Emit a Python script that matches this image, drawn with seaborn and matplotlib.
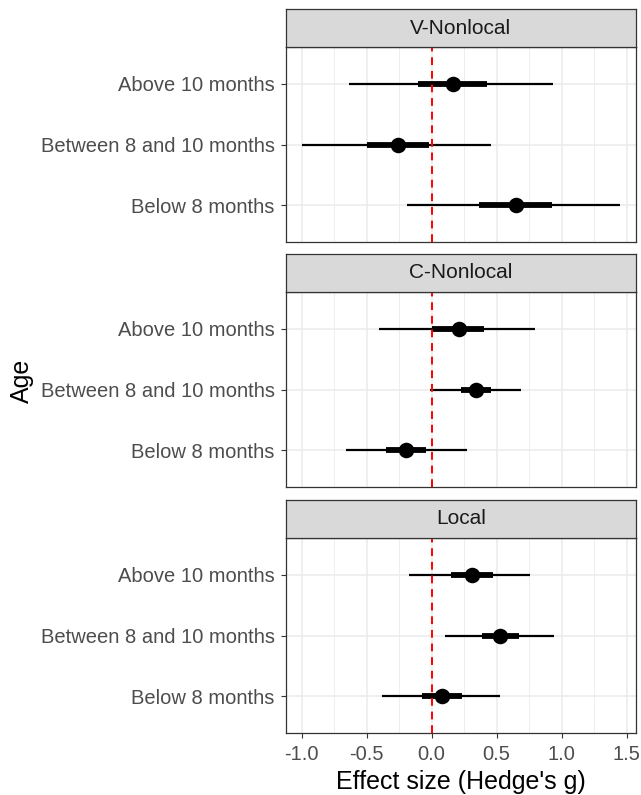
import matplotlib
matplotlib.use("Agg")
import matplotlib.pyplot as plt
import numpy as np
import pandas as pd
import seaborn as sns

# Meta-analytic estimates by condition and age group
conditions = ["V-Nonlocal", "C-Nonlocal", "Local"]
ages = ["Below 8 months", "Between 8 and 10 months", "Above 10 months"]

# order within each condition follows `ages`
estimate = {
    "V-Nonlocal": [0.651, -0.262, 0.166],
    "C-Nonlocal": [-0.195, 0.343, 0.213],
    "Local":      [0.077, 0.528, 0.310],
}
# inner (thick) interval
inner_lo = {
    "V-Nonlocal": [0.364, -0.500, -0.103],
    "C-Nonlocal": [-0.349, 0.225, 0.000],
    "Local":      [-0.077, 0.385, 0.151],
}
inner_hi = {
    "V-Nonlocal": [0.923, -0.020, 0.428],
    "C-Nonlocal": [-0.046, 0.456, 0.405],
    "Local":      [0.231, 0.672, 0.469],
}
# outer (thin) interval
outer_lo = {
    "V-Nonlocal": [-0.192, -0.998, -0.634],
    "C-Nonlocal": [-0.657, -0.013, -0.405],
    "Local":      [-0.385, 0.102, -0.175],
}
outer_hi = {
    "V-Nonlocal": [1.449, 0.456, 0.930],
    "C-Nonlocal": [0.272, 0.684, 0.795],
    "Local":      [0.528, 0.943, 0.754],
}
x_ticks = [-1.0, -0.5, 0.0, 0.5, 1.0, 1.5]

rows = []
for c in conditions:
    for i, a in enumerate(ages):
        rows.append(dict(condition=c, age=a, pos=i, est=estimate[c][i],
                         ilo=inner_lo[c][i], ihi=inner_hi[c][i],
                         olo=outer_lo[c][i], ohi=outer_hi[c][i]))
df = pd.DataFrame(rows)

sns.set_theme(style="white")
plt.rcParams["font.family"] = ["Liberation Sans", "DejaVu Sans"]

W, H = 641, 795
fig = plt.figure(figsize=(W / 100, H / 100), dpi=100)

left_px, right_px = 285.7, 636.0
panel_tops = [47, 292, 538]
panel_h = 195
strip_h = 38
xlim = (-1.123, 1.572)

grid_col = "#EBEBEB"
frame_col = "#333333"
text_col = "#4D4D4D"

for k, cond in enumerate(conditions):
    top = panel_tops[k]
    ax = fig.add_axes([left_px / W, (H - top - panel_h) / H,
                       (right_px - left_px) / W, panel_h / H])
    sub = df[df.condition == cond]

    ax.set_xlim(*xlim)
    ax.set_ylim(-0.6, 2.6)

    # grid: major + minor vertical, one line per category
    for xv in np.arange(-1.0, 1.51, 0.5):
        ax.axvline(xv, color=grid_col, lw=1.1, zorder=0)
    for xv in np.arange(-0.75, 1.51, 0.5):
        ax.axvline(xv, color=grid_col, lw=0.6, zorder=0)
    for yv in range(len(ages)):
        ax.axhline(yv, color=grid_col, lw=1.1, zorder=0)

    ax.hlines(sub.pos, sub.olo, sub.ohi, color="black", lw=1.6, zorder=2)
    ax.hlines(sub.pos, sub.ilo, sub.ihi, color="black", lw=4.2, zorder=3)
    ax.axvline(0, color="red", lw=1.4, ls=(0, (4, 3)), zorder=4)
    sns.scatterplot(data=sub, x="est", y="pos", ax=ax, color="black",
                    s=125, edgecolor="black", linewidth=0, zorder=5,
                    legend=False)

    ax.set_yticks(range(len(ages)))
    ax.set_yticklabels(ages, fontsize=14.5, color=text_col)
    ax.set_xticks(x_ticks)
    ax.set_ylabel("")
    ax.set_xlabel("")
    ax.tick_params(axis="y", length=3.5, width=0.8, color=frame_col, pad=4.5,
                   left=True)
    if k == len(conditions) - 1:
        ax.set_xticklabels([f"{v:.1f}" for v in x_ticks], fontsize=14.5,
                           color=text_col)
        ax.tick_params(axis="x", length=3.5, width=0.8, color=frame_col,
                       pad=5.5, bottom=True)
        ax.set_xlabel("Effect size (Hedge's g)", fontsize=18, color="black",
                      labelpad=4)
    else:
        ax.set_xticklabels([])
        ax.tick_params(axis="x", length=0)
    for sp in ax.spines.values():
        sp.set_color(frame_col)
        sp.set_linewidth(0.9)

    # facet strip
    sax = fig.add_axes([left_px / W, (H - top) / H,
                        (right_px - left_px) / W, strip_h / H])
    sax.set_facecolor("#D9D9D9")
    sax.set_xticks([])
    sax.set_yticks([])
    for sp in sax.spines.values():
        sp.set_color(frame_col)
        sp.set_linewidth(0.9)
    sax.text(0.5, 0.5, cond, ha="center", va="center", fontsize=15,
             color="#1A1A1A", transform=sax.transAxes)

fig.text(22 / W, 1 - 381 / H, "Age", rotation=90, ha="center", va="center",
         fontsize=18, color="black")

fig.savefig("out.png", dpi=100)
